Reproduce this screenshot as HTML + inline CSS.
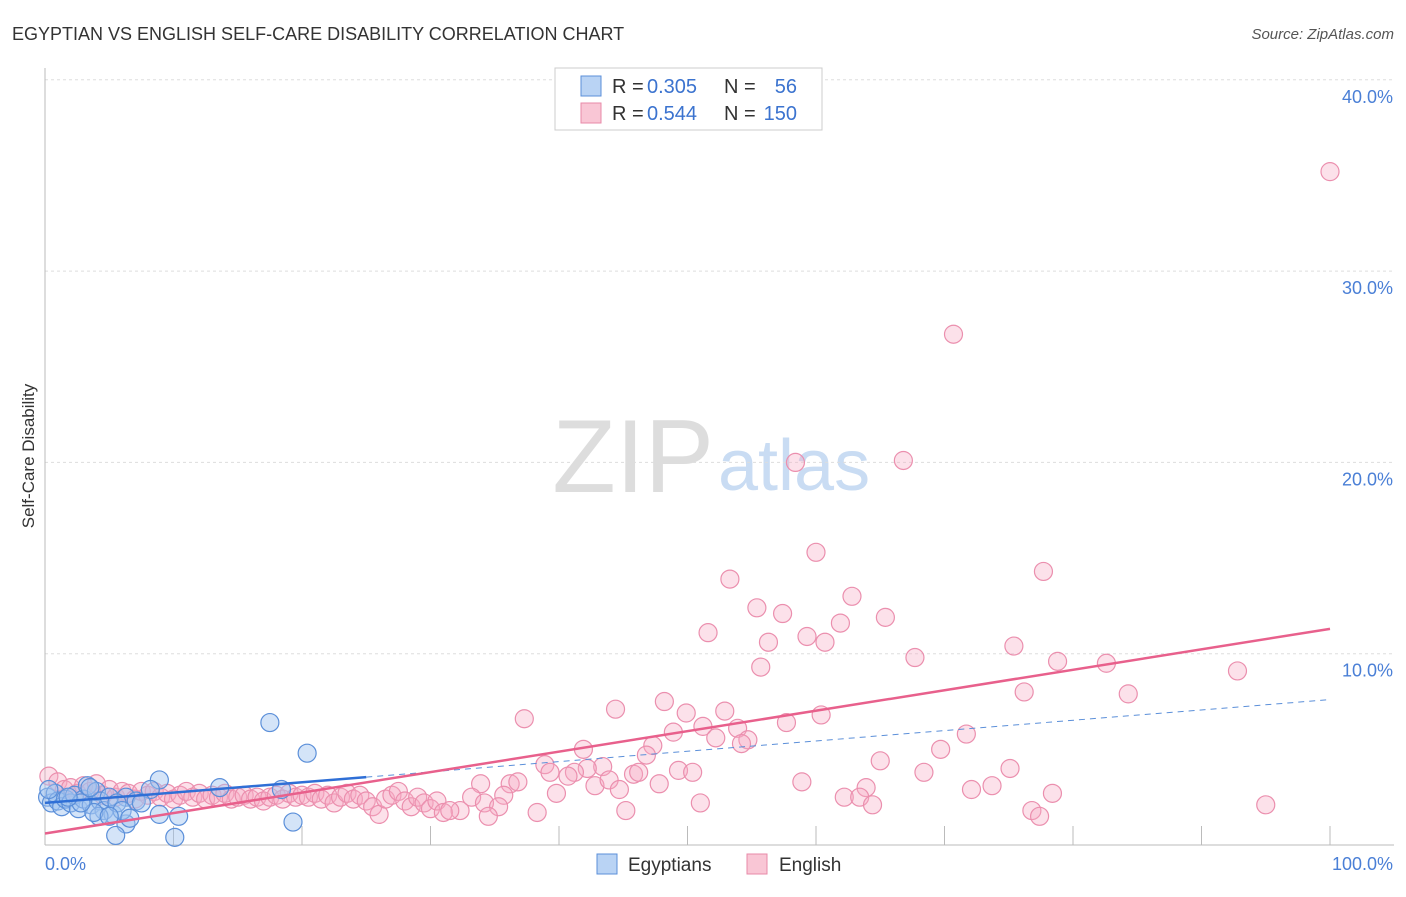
<!DOCTYPE html>
<html><head><meta charset="utf-8"><style>
body{margin:0;background:#fff;font-family:"Liberation Sans",sans-serif;}
svg text{font-family:"Liberation Sans",sans-serif;}
</style></head><body>
<svg id="chart" width="1406" height="892" viewBox="0 0 1406 892">
<text x="12" y="40" font-size="18" fill="#333">EGYPTIAN VS ENGLISH SELF-CARE DISABILITY CORRELATION CHART</text>
<text x="1394" y="39" font-size="15" fill="#555" font-style="italic" text-anchor="end">Source: ZipAtlas.com</text>
<text x="714" y="492" font-size="104" fill="#ddd" text-anchor="end" font-family="Liberation Serif">ZIP</text>
<text x="718" y="490" font-size="72" fill="#c9dcf3">atlas</text>
<g id="grid"></g>
<g id="axes"></g>
<g id="pts"></g>
<g id="lines"></g>
<text x="34" y="456" font-size="17" fill="#333" transform="rotate(-90 34 456)" text-anchor="middle">Self-Care Disability</text>
<g>
<rect x="555" y="68" width="267" height="62" fill="#fff" stroke="#ccc"/>
<rect x="581" y="76" width="20" height="20" fill="#b9d3f4" stroke="#5b8fd9"/>
<rect x="581" y="103" width="20" height="20" fill="#f9c6d5" stroke="#e88aa8"/>
<text x="612" y="93" font-size="20" fill="#333">R =</text>
<text x="647" y="93" font-size="20" fill="#3b73cf">0.305</text>
<text x="724" y="93" font-size="20" fill="#333">N =</text>
<text x="797" y="93" font-size="20" fill="#3b73cf" text-anchor="end">56</text>
<text x="612" y="120" font-size="20" fill="#333">R =</text>
<text x="647" y="120" font-size="20" fill="#3b73cf">0.544</text>
<text x="724" y="120" font-size="20" fill="#333">N =</text>
<text x="797" y="120" font-size="20" fill="#3b73cf" text-anchor="end">150</text>
</g>
<g>
<rect x="597" y="854" width="20" height="20" fill="#b9d3f4" stroke="#5b8fd9"/>
<text x="628" y="871" font-size="19" fill="#333">Egyptians</text>
<rect x="747" y="854" width="20" height="20" fill="#f9c6d5" stroke="#e88aa8"/>
<text x="779" y="871" font-size="19" fill="#333">English</text>
</g>
</svg>
<script>
const yTicks=[10,20,30,40];
const yTickLabels=["10.0%","20.0%","30.0%","40.0%"];
const blueX=[17.5,20.4,8.9,13.6,18.4,8.2,19.3,10.4,8.9,6.3,5.5,10.1,6.3,7.1,0.2,0.5,0.8,1,1.3,1.6,2,2.3,2.6,3,3.3,3.6,4,4.3,4.6,5,5.3,5.6,6,4.2,3.8,7.5,2.8,0.3,1.8,3.5,6.6,5.0];
const blueY=[6.4,4.8,3.4,3.0,2.9,2.9,1.2,1.5,1.6,1.1,0.5,0.4,2.5,2.3,2.5,2.2,2.7,2.3,2.0,2.4,2.2,2.6,1.9,2.4,3.1,2.1,2.8,2.3,1.8,2.5,1.6,2.2,1.8,1.5,1.7,2.2,2.2,2.9,2.5,3.0,1.4,1.5];
const pinkX=[100,70.7,58.4,66.8,60,53.3,77.7,55.4,57.4,62.8,61.9,65.4,51.6,56.3,59.3,60.7,75.4,67.7,55.7,78.8,82.6,92.8,76.2,84.3,48.2,44.4,49.9,52.9,37.3,51.2,48.9,53.9,57.7,60.4,52.2,54.7,54.2,71.7,47.3,41.9,46.8,69.7,38.9,43.4,42.2,65,75.1,41.2,39.3,45.8,46.2,40.7,49.3,50.4,68.4,36.2,36.8,33.9,58.9,63.9,42.8,43.9,47.8,73.7,72.1,78.4,39.8,44.7,35.7,33.2,62.2,63.4,51,64.4,95,34.2,35.3,32.3,38.3,45.2,34.5,76.8,77.4,
0.3,1,1.5,2,2.5,3,3.5,4,4.5,5,5.5,6,6.5,7,7.5,8,8.5,9,9.5,10,10.5,11,11.5,12,12.5,13,13.5,14,14.5,15,15.5,16,16.5,17,17.5,18,18.5,19,19.5,20,20.5,21,21.5,22,22.5,23,23.5,24,24.5,25,25.5,26,26.5,27,27.5,28,28.5,29,29.5,30,30.5,31,31.5];
const pinkY=[35.2,26.7,20.0,20.1,15.3,13.9,14.3,12.4,12.1,13.0,11.6,11.9,11.1,10.6,10.9,10.6,10.4,9.8,9.3,9.6,9.5,9.1,8.0,7.9,7.5,7.1,6.9,7.0,6.6,6.2,5.9,6.1,6.4,6.8,5.6,5.5,5.3,5.8,5.2,5.0,4.7,5.0,4.2,4.1,4.0,4.4,4.0,3.8,3.8,3.7,3.8,3.6,3.9,3.8,3.8,3.2,3.3,3.2,3.3,3.0,3.1,3.4,3.2,3.1,2.9,2.7,2.7,2.9,2.6,2.5,2.5,2.5,2.2,2.1,2.1,2.2,2.0,1.8,1.7,1.8,1.5,1.8,1.5,
3.6,3.3,2.9,3.0,2.7,3.1,2.8,3.2,2.6,2.9,2.5,2.8,2.7,2.4,2.8,2.6,2.8,2.5,2.7,2.4,2.6,2.8,2.5,2.7,2.4,2.6,2.5,2.7,2.4,2.5,2.6,2.4,2.5,2.3,2.5,2.6,2.4,2.7,2.5,2.6,2.5,2.7,2.4,2.6,2.2,2.5,2.7,2.4,2.6,2.3,2.0,1.6,2.4,2.6,2.8,2.3,2.0,2.5,2.2,1.9,2.3,1.7,1.8];
const blueFit=[2.2,0.054];
const pinkFit=[0.6,0.107];
const ns="http://www.w3.org/2000/svg";
const X=v=>45+v*12.85;
const Y=v=>845-v*19.13;
function mk(tag,attrs,parent){const e=document.createElementNS(ns,tag);for(const k in attrs)e.setAttribute(k,attrs[k]);parent.appendChild(e);return e;}
const grid=document.getElementById('grid'),axes=document.getElementById('axes'),pts=document.getElementById('pts'),lines=document.getElementById('lines');
yTicks.forEach((t,i)=>{
 const g=mk('line',{x1:45,x2:1394,y1:Y(t),y2:Y(t),stroke:'#ddd','stroke-dasharray':'3,3'},grid);
 
 
 const tx=mk('text',{x:1393,y:Y(t)+23,'font-size':18,fill:'#4a7fd6','text-anchor':'end'},axes);
 tx.textContent=yTickLabels[i];
 
 
});
const ax=mk('line',{x1:45,x2:45,y1:68,y2:845,stroke:'#bbb'},axes);


const bx=mk('line',{x1:45,x2:1394,y1:845,y2:845,stroke:'#bbb'},axes);


for(let i=1;i<=10;i++){const tk=mk('line',{x1:X(i*10),x2:X(i*10),y1:826,y2:845,stroke:'#bbb'},axes);
 
 }
const l0=mk('text',{x:45,y:870,'font-size':18,fill:'#4a7fd6'},axes);l0.textContent='0.0%';


const l1=mk('text',{x:1393,y:870,'font-size':18,fill:'#4a7fd6','text-anchor':'end'},axes);l1.textContent='100.0%';


pinkX.forEach((x,i)=>{const c=mk('circle',{cx:X(x),cy:Y(pinkY[i]),r:9,fill:'rgba(246,170,194,0.35)',stroke:'#eb8fae','stroke-width':1.2},pts);
 
 });
blueX.forEach((x,i)=>{const c=mk('circle',{cx:X(x),cy:Y(blueY[i]),r:9,fill:'rgba(160,196,240,0.45)',stroke:'#5b8fd9','stroke-width':1.2},pts);
 
 });
const bd=mk('line',{x1:X(25),y1:Y(blueFit[0]+blueFit[1]*25),x2:X(100),y2:Y(blueFit[0]+blueFit[1]*100),stroke:'#5b8fd9','stroke-width':1,'stroke-dasharray':'6,5'},lines);


const bl=mk('line',{x1:X(0),y1:Y(blueFit[0]),x2:X(25),y2:Y(blueFit[0]+blueFit[1]*25),stroke:'#2f6fd6','stroke-width':2.5},lines);


const pl=mk('line',{x1:X(0),y1:Y(pinkFit[0]),x2:X(100),y2:Y(pinkFit[0]+pinkFit[1]*100),stroke:'#e8608c','stroke-width':2.5},lines);


</script>
</body></html>
